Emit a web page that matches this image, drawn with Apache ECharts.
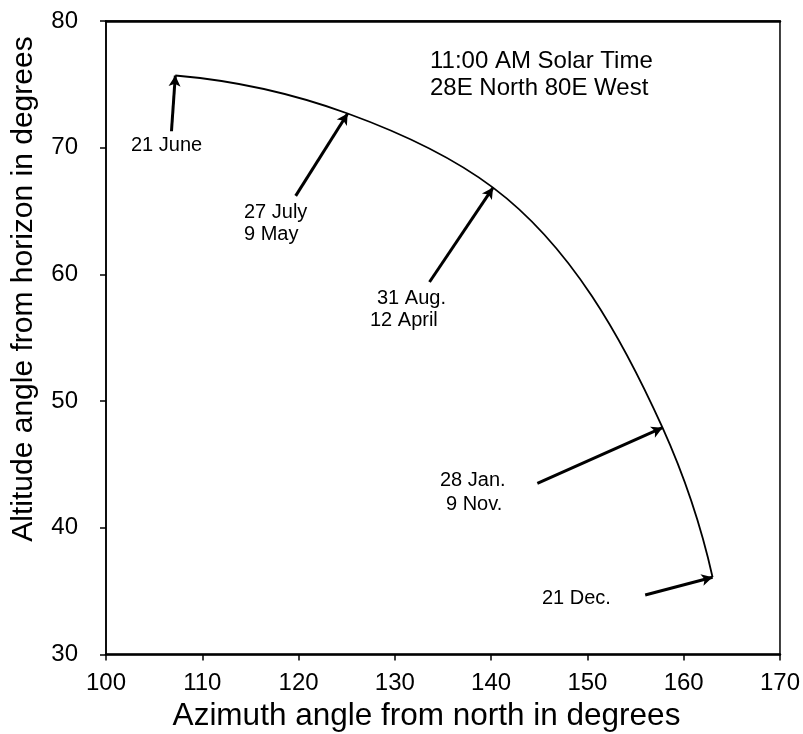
<!DOCTYPE html>
<html>
<head>
<meta charset="utf-8">
<script src="https://cdn.jsdelivr.net/npm/echarts@6/dist/echarts.min.js"></script>
<style>
html,body{margin:0;padding:0;background:#fff;}
#chart{width:803px;height:734px;}
</style>
</head>
<body>
<div id="chart"></div>
<script>
// Sun path points (11:00 AM solar time, 28°N 80°W)
const azimuth  = [107.2, 125.1, 140.2, 157.8, 163.0];
const altitude = [75.7, 72.7, 66.85, 47.9, 36.1];
// Arrow tails (label side) for each date marker
const arrowTailAz  = [106.8, 119.7, 133.6, 144.8, 156.0];
const arrowTailAlt = [71.3, 66.2, 59.4, 43.5, 34.7];
const dateLabels = [['21 June'], ['27 July', '9 May'], ['31 Aug.', '12 April'], ['28 Jan.', '9 Nov.'], ['21 Dec.']];
const headerLines = ['11:00 AM Solar Time', '28E North 80E West'];
const xTitle = 'Azimuth angle from north in degrees';
const yTitle = 'Altitude angle from horizon in degrees';

const FONT = '"Liberation Sans", Arial, Helvetica, sans-serif';

const curveData = azimuth.map((a, i) => [a, altitude[i]]);
const arrowLines = azimuth.map((a, i) => [
  { coord: [arrowTailAz[i], arrowTailAlt[i]] },
  { coord: [a, altitude[i]] }
]);

// label text positions (pixels): [left, centerY] for each line
const labelPos = [
  [[131, 145]],
  [[244, 212], [244, 234]],
  [[377, 298], [370, 320]],
  [[440, 480], [446, 504]],
  [[542, 598]]
];

const graphics = [];
dateLabels.forEach((lines, i) => {
  lines.forEach((t, j) => {
    graphics.push({
      type: 'text', x: labelPos[i][j][0], y: labelPos[i][j][1],
      style: { text: t, font: '20px ' + FONT, fill: '#000', textAlign: 'left', textVerticalAlign: 'middle' }
    });
  });
});
headerLines.forEach((t, j) => {
  graphics.push({
    type: 'text', x: 430, y: 61 + j * 27,
    style: { text: t, font: '24px ' + FONT, fill: '#000', textAlign: 'left', textVerticalAlign: 'middle' }
  });
});
graphics.push({
  type: 'text', x: 426.5, y: 716,
  style: { text: xTitle, font: '31.5px ' + FONT, fill: '#000', textAlign: 'center', textVerticalAlign: 'middle' }
});
graphics.push({
  type: 'text', x: 24, y: 289, rotation: Math.PI / 2,
  style: { text: yTitle, font: '30px ' + FONT, fill: '#000', textAlign: 'center', textVerticalAlign: 'middle' }
});

// Smooth arc through the points (tangent-continuous cubic Béziers, computed in pixel space)
function arcPath(P) {
  const n = P.length, ca = [], cl = [], t = [];
  for (let k = 0; k < n - 1; k++) {
    const dx = P[k + 1][0] - P[k][0], dy = P[k + 1][1] - P[k][1];
    ca.push(Math.atan2(dy, dx)); cl.push(Math.hypot(dx, dy));
  }
  for (let k = 1; k < n - 1; k++) {
    let da = ca[k] - ca[k - 1];
    while (da > Math.PI) da -= 2 * Math.PI;
    while (da < -Math.PI) da += 2 * Math.PI;
    t[k] = ca[k - 1] + da * cl[k - 1] / (cl[k - 1] + cl[k]);
  }
  t[0] = 2 * ca[0] - t[1];
  t[n - 1] = 2 * ca[n - 2] - t[n - 2];
  let d = 'M' + P[0][0] + ' ' + P[0][1];
  for (let k = 0; k < n - 1; k++) {
    const h = cl[k] / 3;
    const c1x = P[k][0] + h * Math.cos(t[k]), c1y = P[k][1] + h * Math.sin(t[k]);
    const c2x = P[k + 1][0] - h * Math.cos(t[k + 1]), c2y = P[k + 1][1] - h * Math.sin(t[k + 1]);
    d += ' C' + c1x + ' ' + c1y + ' ' + c2x + ' ' + c2y + ' ' + P[k + 1][0] + ' ' + P[k + 1][1];
  }
  return d;
}

const chart = echarts.init(document.getElementById('chart'), null, { renderer: 'canvas' });
chart.setOption({
  animation: false,
  backgroundColor: '#fff',
  grid: { left: 106, right: 21.5, top: 21, bottom: 79.5, show: true, borderColor: '#000', borderWidth: 1.5 },
  xAxis: [{
    type: 'value', min: 100, max: 170, interval: 10, position: 'bottom',
    axisLine: { show: true, onZero: false, lineStyle: { color: '#000', width: 2.5 } },
    axisTick: { show: true, inside: false, length: 6, lineStyle: { color: '#000', width: 1.5 } },
    axisLabel: { fontFamily: FONT, fontSize: 24, color: '#000', margin: 17 },
    splitLine: { show: false }
  }, {
    type: 'value', min: 100, max: 170, position: 'top',
    axisLine: { show: true, onZero: false, lineStyle: { color: '#000', width: 2.5 } },
    axisTick: { show: false }, axisLabel: { show: false }, splitLine: { show: false }
  }],
  yAxis: {
    type: 'value', min: 30, max: 80, interval: 10,
    axisLine: { show: true, onZero: false, lineStyle: { color: '#000', width: 1.5 } },
    axisTick: { show: true, inside: false, length: 6, lineStyle: { color: '#000', width: 1.5 } },
    axisLabel: { fontFamily: FONT, fontSize: 24, color: '#000', margin: 28 },
    splitLine: { show: false }
  },
  graphic: graphics,
  series: [{
    type: 'custom',
    coordinateSystem: 'cartesian2d',
    data: curveData,
    encode: { x: 0, y: 1 },
    renderItem: function (params, api) {
      if (params.dataIndex !== 0) return null;
      const P = azimuth.map((a, k) => api.coord([a, altitude[k]]));
      return {
        type: 'path',
        shape: { pathData: arcPath(P) },
        style: { stroke: '#000', fill: 'none', lineWidth: 1.8 }
      };
    }
  }, {
    type: 'line', data: curveData, showSymbol: false, symbol: 'none',
    lineStyle: { opacity: 0 },
    markLine: {
      silent: true, symbol: ['none', 'arrow'], symbolSize: [9, 11], precision: 3,
      label: { show: false },
      lineStyle: { color: '#000', width: 3, type: 'solid', opacity: 1 },
      data: arrowLines
    }
  }]
});
</script>
</body>
</html>
